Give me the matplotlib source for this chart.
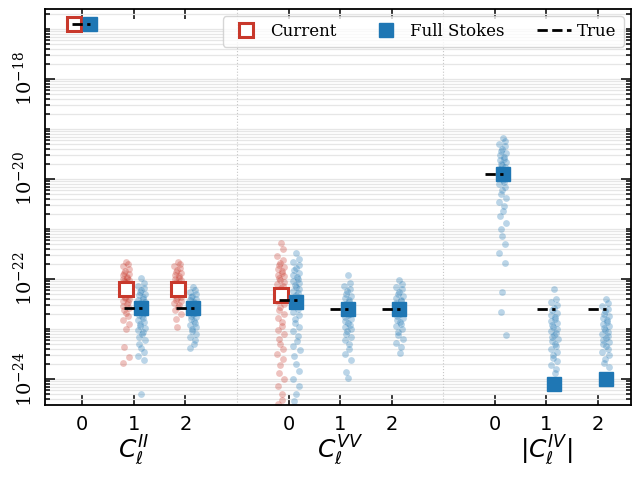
import numpy as np
import matplotlib
matplotlib.use("Agg")
import matplotlib.pyplot as plt
import matplotlib.ticker as mticker
from matplotlib.transforms import blended_transform_factory

plt.rcParams['font.family'] = 'DejaVu Serif'
plt.rcParams['mathtext.fontset'] = 'dejavuserif'

# group labels and ell values
groups = [r'$C_\ell^{II}$', r'$C_\ell^{VV}$', r'$|C_\ell^{IV}|$']
ells = [0, 1, 2]
xpos = [0, 1, 2, 4, 5, 6, 8, 9, 10]

# summary values (one per group/ell)
true_vals = [1.26e-17, 2.63e-23, 2.63e-23, 3.8e-23, 2.5e-23, 2.5e-23, 1.26e-20, 2.5e-23, 2.5e-23]
full_vals = [1.26e-17, 2.63e-23, 2.63e-23, 3.5e-23, 2.5e-23, 2.5e-23, 1.26e-20, 7.9e-25, 1.0e-24]
current_vals = [1.26e-17, 6.3e-23, 6.3e-23, 4.8e-23, None, None, None, None, None]

# sample clouds, log10 values
red_II0 = [-16.88, -16.9, -16.92]
blue_II0 = [-16.88, -16.9, -16.92]
red_II1 = [-21.66, -21.7, -21.75, -21.8, -21.84, -21.88, -21.9, -21.93, -21.96, -21.98,
           -22.0, -22.03, -22.05, -22.07, -22.1, -22.12, -22.14, -22.16, -22.18, -22.2,
           -22.23, -22.25, -22.28, -22.3, -22.33, -22.36, -22.38, -22.41, -22.44, -22.47,
           -22.5, -22.54, -22.58, -22.62, -22.68, -22.75, -22.82, -22.9, -23.0, -23.36,
           -23.56, -23.68]
blue_II1 = [-21.98, -22.08, -22.14, -22.18, -22.22, -22.26, -22.3, -22.33, -22.36, -22.4,
            -22.43, -22.46, -22.49, -22.52, -22.55, -22.58, -22.6, -22.63, -22.66, -22.69,
            -22.72, -22.75, -22.78, -22.82, -22.86, -22.9, -22.94, -22.98, -23.02, -23.06,
            -23.1, -23.16, -23.22, -23.3, -23.38, -23.46, -23.55, -23.62, -24.3]
red_II2 = [-21.66, -21.7, -21.74, -21.78, -21.82, -21.86, -21.89, -21.92, -21.95, -21.98,
           -22.0, -22.03, -22.06, -22.08, -22.11, -22.13, -22.16, -22.18, -22.2, -22.23,
           -22.25, -22.28, -22.3, -22.33, -22.36, -22.39, -22.42, -22.45, -22.49, -22.53,
           -22.57, -22.62, -22.7, -22.8, -22.96]
blue_II2 = [-22.16, -22.22, -22.26, -22.3, -22.34, -22.37, -22.4, -22.43, -22.46, -22.49,
            -22.52, -22.55, -22.57, -22.6, -22.62, -22.65, -22.68, -22.71, -22.74, -22.77,
            -22.8, -22.84, -22.88, -22.92, -22.96, -23.0, -23.05, -23.1, -23.16, -23.22,
            -23.3, -23.38]
red_VV0 = [-21.28, -21.4, -21.55, -21.62, -21.68, -21.72, -21.76, -21.8, -21.84, -21.88,
           -21.92, -21.95, -21.98, -22.02, -22.06, -22.1, -22.14, -22.18, -22.22, -22.26,
           -22.3, -22.35, -22.4, -22.45, -22.5, -22.56, -22.62, -22.7, -22.78, -22.86,
           -22.94, -23.02, -23.1, -23.2, -23.3, -23.4, -23.5, -23.6, -23.72, -23.88,
           -24.0, -24.15, -24.3, -24.42, -24.5]
blue_VV0 = [-21.48, -21.6, -21.66, -21.72, -21.78, -21.83, -21.88, -21.92, -21.96, -22.0,
            -22.04, -22.08, -22.12, -22.16, -22.2, -22.24, -22.28, -22.33, -22.38, -22.43,
            -22.48, -22.54, -22.6, -22.66, -22.72, -22.8, -22.88, -22.96, -23.05, -23.14,
            -23.24, -23.34, -23.42, -23.55, -23.7, -23.85, -24.0, -24.15, -24.3, -24.45]
blue_VV1 = [-21.92, -22.08, -22.14, -22.2, -22.25, -22.3, -22.34, -22.38, -22.42, -22.46,
            -22.5, -22.53, -22.56, -22.6, -22.63, -22.66, -22.7, -22.73, -22.77, -22.8,
            -22.84, -22.88, -22.92, -22.96, -23.0, -23.05, -23.1, -23.16, -23.22, -23.3,
            -23.4, -23.5, -23.62, -23.86, -23.98]
blue_VV2 = [-22.02, -22.1, -22.16, -22.21, -22.26, -22.3, -22.34, -22.38, -22.42, -22.45,
            -22.48, -22.52, -22.55, -22.58, -22.61, -22.64, -22.67, -22.7, -22.74, -22.78,
            -22.82, -22.86, -22.9, -22.95, -23.0, -23.06, -23.12, -23.2, -23.28, -23.36,
            -23.48]
blue_IV0 = [-19.18, -19.24, -19.3, -19.35, -19.4, -19.44, -19.48, -19.52, -19.56, -19.6,
            -19.63, -19.66, -19.7, -19.73, -19.76, -19.8, -19.83, -19.86, -19.9, -19.94,
            -19.98, -20.02, -20.06, -20.1, -20.16, -20.22, -20.3, -20.38, -20.46, -20.55,
            -20.64, -20.75, -20.88, -21.0, -21.15, -21.3, -21.48, -21.68, -22.26, -22.66,
            -23.12]
blue_IV1 = [-22.2, -22.4, -22.46, -22.52, -22.58, -22.63, -22.68, -22.72, -22.76, -22.8,
            -22.84, -22.88, -22.92, -22.96, -23.0, -23.04, -23.08, -23.12, -23.16, -23.2,
            -23.25, -23.3, -23.35, -23.4, -23.46, -23.52, -23.58, -23.64, -23.72, -23.8,
            -23.88]
blue_IV2 = [-22.4, -22.48, -22.55, -22.6, -22.65, -22.7, -22.74, -22.78, -22.82, -22.86,
            -22.9, -22.94, -22.98, -23.02, -23.06, -23.1, -23.14, -23.18, -23.22, -23.26,
            -23.3, -23.35, -23.4, -23.46, -23.52, -23.6, -23.68, -23.76]

red_clouds = [red_II0, red_II1, red_II2, red_VV0, None, None, None, None, None]
blue_clouds = [blue_II0, blue_II1, blue_II2, blue_VV0, blue_VV1, blue_VV2,
               blue_IV0, blue_IV1, blue_IV2]

RED = '#c8382b'
BLUE = '#1f77b4'
shift = 0.15

fig = plt.figure(figsize=(6.37, 4.83), dpi=100)
ax = fig.add_axes([0.0707, 0.1615, 0.9199, 0.8199])
ax.set_yscale('log')


def cloud(x, vals, color):
    n = len(vals)
    jit = 0.065 * np.sin(np.arange(n) * 2.39996)
    ax.scatter(x + jit, 10.0 ** np.array(vals), s=24, color=color, alpha=0.3,
               linewidths=0, zorder=2)


for i, x in enumerate(xpos):
    if red_clouds[i] is not None:
        cloud(x - shift, red_clouds[i], RED)
    cloud(x + shift, blue_clouds[i], BLUE)

for i, x in enumerate(xpos):
    if current_vals[i] is not None:
        ax.plot([x - shift], [current_vals[i]], 's', ms=10, mfc='white', mec=RED, mew=2.2,
                zorder=4, label='Current' if i == 0 else None)
    ax.plot([x + shift], [full_vals[i]], 's', ms=10.5, color=BLUE, zorder=4,
            label='Full Stokes' if i == 0 else None)
    ax.plot([x - 0.19, x + 0.16], [true_vals[i], true_vals[i]], '--', color='k', lw=2,
            zorder=5, label='True' if i == 0 else None)

ax.axvline(3, color='#c8c8c8', ls=':', lw=0.8, zorder=1)
ax.axvline(7, color='#c8c8c8', ls=':', lw=0.8, zorder=1)

ax.set_xlim(-0.72, 10.64)
ax.set_ylim(10 ** -24.52, 10 ** -16.6)

ax.set_xticks(xpos)
ax.set_xticklabels([str(l) for l in ells] * 3, family='DejaVu Sans', fontsize=14)

ax.yaxis.set_major_locator(mticker.FixedLocator([1e-24, 1e-22, 1e-20, 1e-18]))
ax.yaxis.set_minor_locator(mticker.LogLocator(base=10, subs=np.arange(1, 10), numticks=100))
ax.yaxis.set_minor_formatter(mticker.NullFormatter())
for lab in ax.get_yticklabels():
    lab.set_rotation(90)
    lab.set_va('center')
    lab.set_fontsize(14)

ax.grid(True, which='both', axis='y', color='#e6e6e6', lw=0.9, zorder=0)
ax.set_axisbelow(True)

ax.tick_params(which='both', direction='in', top=True, right=True, width=1.1)
ax.tick_params(which='major', length=7, pad=7)
ax.tick_params(which='minor', length=3.5)
for sp in ax.spines.values():
    sp.set_linewidth(1.3)

trans = blended_transform_factory(ax.transData, ax.transAxes)
for g, label in enumerate(groups):
    ax.text(xpos[3 * g + 1], -0.115, label, transform=trans, ha='center', va='center',
            fontsize=18, math_fontfamily='dejavusans')

ax.legend(loc='upper right', ncol=3, fontsize=12, handletextpad=0.4,
          columnspacing=2.0, borderaxespad=0.45, framealpha=0.8)

fig.savefig('out.png', dpi=100)
